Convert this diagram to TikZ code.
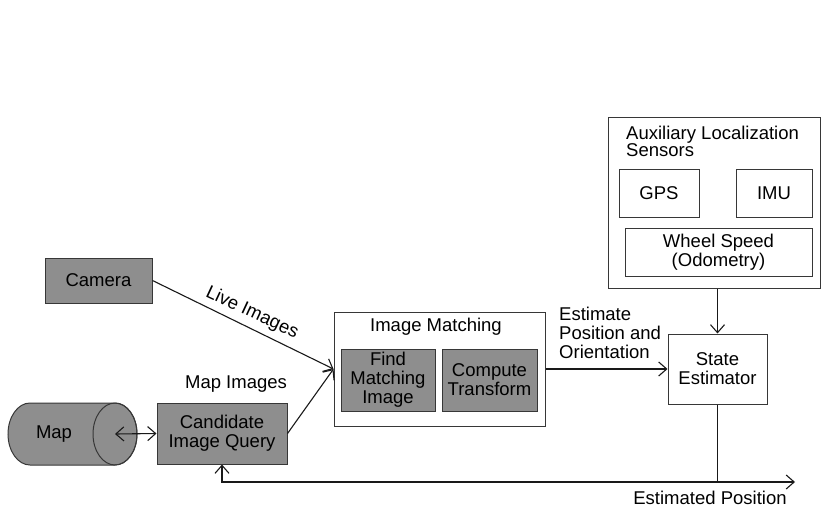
\documentclass[tikz,border=0pt]{standalone}
\usepackage{fontspec}
\setmainfont{Liberation Sans}
\usetikzlibrary{arrows.meta,calc}
\definecolor{boxgray}{RGB}{142,142,142}
\definecolor{edge}{RGB}{55,55,55}
\tikzset{
  txt/.style={font=\fontsize{18.5}{19}\selectfont, text=black, inner sep=0pt},
  graybox/.style={txt, draw=edge, fill=boxgray, line width=1pt, align=center},
  whitebox/.style={txt, draw=edge, fill=white, line width=1pt, align=center},
  conn/.style={line width=1.1pt, draw=black!90},
  tip/.style={-{Straight Barb[length=8pt,width=14pt,line width=1.1pt]}},
  tips/.style={{Straight Barb[length=8pt,width=14pt,line width=1.1pt]}-{Straight Barb[length=8pt,width=14pt,line width=1.1pt]}}
}
\begin{document}
\begin{tikzpicture}[x=1pt,y=-1pt]
\useasboundingbox (0,0) rectangle (822,509);

% map store drawn as a lying cylinder
\path[fill=boxgray, draw=edge, line width=1pt]
  (30,403) -- (115,403) arc[start angle=90, end angle=-90, x radius=22, y radius=-31]
  -- (30,465) arc[start angle=-90, end angle=-270, x radius=22, y radius=-31] -- cycle;
\draw[edge, line width=1pt] (115,434) ellipse[x radius=22, y radius=31];
\node[txt] (map) at (54,434) {Map};
\coordinate (mapend) at (115,434);

% processing blocks
\node[graybox, minimum width=107pt, minimum height=45pt] (camera) at (98.5,280.5) {Camera};
\node[graybox, minimum width=130pt, minimum height=61pt] (ciq) at (222,433.5) {Candidate\\Image Query};

\node[whitebox, minimum width=211pt, minimum height=114pt] (im) at (439.5,369) {};
\node[txt] (imtitle) at (436,327) {Image Matching};
\node[graybox, minimum width=94pt, minimum height=62pt] (find) at (388,380) {Find\\Matching\\Image};
\node[graybox, minimum width=95pt, minimum height=62pt] (comp) at (489.5,380) {Compute\\Transform};

\node[whitebox, minimum width=99pt, minimum height=70pt] (state) at (717.5,369) {State\\Estimator};

% auxiliary sensors group
\node[whitebox, minimum width=212pt, minimum height=171pt] (aux) at (714,202.5) {};
\node[txt, font=\fontsize{18.5}{17}\selectfont, anchor=north west, align=left] (auxtitle) at (626,126) {Auxiliary Localization\\Sensors};
\node[whitebox, minimum width=80pt, minimum height=48pt] (gps) at (659,193) {GPS};
\node[whitebox, minimum width=76pt, minimum height=48pt] (imu) at (774,193) {IMU};
\node[whitebox, minimum width=187pt, minimum height=48pt] (wheel) at (718.5,252) {Wheel Speed\\(Odometry)};

% connectors
\draw[conn, tip] (camera.east) -- (im.west);
\draw[conn, tip] (ciq.east) -- (im.west);
\draw[conn, tips] (mapend) -- (ciq.west);
\draw[conn, tip] (im.east) -- (state.west);
\draw[conn, tip] (aux.south -| state.north) -- (state.north);
\coordinate (out) at (795,482);
\draw[conn, tip] (state.south) |- (out);
\draw[conn, tip] (state.south |- out) -| (ciq.south);

% labels
\node[txt, rotate=-25] (live) at (252,313) {Live Images};
\node[txt] (mapimg) at (236,384) {Map Images};
\node[txt, anchor=north west, align=left] (estlbl) at (559,307) {Estimate\\Position and\\Orientation};
\node[txt] (estpos) at (710,498) {Estimated Position};
\end{tikzpicture}
\end{document}
